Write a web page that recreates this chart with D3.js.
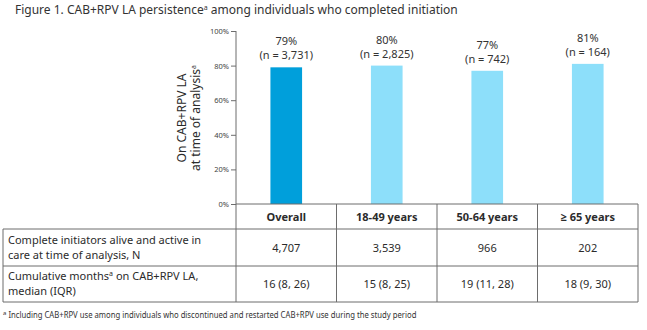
<!DOCTYPE html>
<html>
<head>
<meta charset="utf-8">
<script src="https://cdn.jsdelivr.net/npm/d3@7"></script>
<style>
  body { margin: 0; background: #fff; }
  svg { font-family: "Noto Sans", "Open Sans", sans-serif; }
</style>
</head>
<body>
<div id="chart"></div>
<script>
/* DATA */
const groups = ["Overall", "18-49 years", "50-64 years", "\u2265 65 years"]
const persistence = [79, 80, 77, 81]
const nOnLA = [3731, 2825, 742, 164]
const initiators = [4707, 3539, 966, 202]
const cumMonths = ["16 (8, 26)", "15 (8, 25)", "19 (11, 28)", "18 (9, 30)"]
const yTicks = [0, 20, 40, 60, 80, 100]

/* CONSTANTS */
const width = 647, height = 330
const plot = { left: 236, right: 638, top: 31, bottom: 204 }
const rows = [204, 229, 266, 302]
const tableLeft = 3
const lineColor = "#6d6d6d"
const textColor = "#2b2b2b"

const svg = d3.select("#chart")
  .append("svg")
  .attr("width", width)
  .attr("height", height)

//scales
const xScale = d3.scaleBand()
  .domain(groups)
  .range([plot.left, plot.right])

const yScale = d3.scaleLinear()
  .domain([0, 100])
  .range([plot.bottom, plot.top])

const barW = xScale.bandwidth() * 0.315

//title
const title = svg.append("text")
  .attr("x", 15)
  .attr("y", 14)
  .attr("font-size", "12px")
  .attr("fill", "#333")
title.append("tspan").text("Figure 1. CAB+RPV LA persistence")
title.append("tspan").text("a").attr("font-size", "7px").attr("dy", -4)
title.append("tspan").text(" among individuals who completed initiation").attr("dy", 4)

//y-axis
const yAxis = d3.axisLeft(yScale)
  .tickValues(yTicks)
  .tickFormat(d => d + "%")
  .tickSize(5)
  .tickPadding(2)

const yG = svg.append("g")
  .attr("class", "y-axis")
  .attr("transform", `translate(${plot.left},0)`)
  .call(yAxis)
yG.select(".domain").remove()
yG.selectAll("line").attr("stroke", lineColor)
yG.selectAll("text").attr("font-size", "7.5px").attr("fill", "#444").attr("font-family", "Noto Sans")

const yTitle = svg.append("text")
  .attr("transform", `translate(186,118) rotate(-90)`)
  .attr("text-anchor", "middle")
  .attr("font-size", "12px")
  .attr("fill", textColor)
yTitle.append("tspan").attr("x", 0).attr("dy", 0).text("On CAB+RPV LA")
const l2 = yTitle.append("tspan").attr("x", 0).attr("dy", 14)
l2.append("tspan").text("at time of analysis")
l2.append("tspan").text("a").attr("font-size", "7px").attr("dy", -4)

//bars
svg.selectAll(".bar")
  .data(groups)
  .join("rect")
  .attr("class", "bar")
  .attr("x", d => xScale(d) + xScale.bandwidth() / 2 - barW / 2)
  .attr("width", barW)
  .attr("y", (d, i) => yScale(persistence[i]))
  .attr("height", (d, i) => yScale(0) - yScale(persistence[i]))
  .attr("fill", (d, i) => i === 0 ? "#009fdb" : "#8ddffa")

//bar labels
svg.selectAll(".pct")
  .data(groups)
  .join("text")
  .attr("class", "pct")
  .attr("x", d => xScale(d) + xScale.bandwidth() / 2)
  .attr("y", (d, i) => yScale(persistence[i]) - 22)
  .attr("text-anchor", "middle")
  .attr("font-size", "11px")
  .attr("fill", "#333")
  .text((d, i) => persistence[i] + "%")

svg.selectAll(".nlab")
  .data(groups)
  .join("text")
  .attr("class", "nlab")
  .attr("x", d => xScale(d) + xScale.bandwidth() / 2)
  .attr("y", (d, i) => yScale(persistence[i]) - 8)
  .attr("text-anchor", "middle")
  .attr("font-size", "11px")
  .attr("fill", "#333")
  .text((d, i) => "(n = " + d3.format(",")(nOnLA[i]) + ")")

//table lines
const lines = svg.append("g").attr("stroke", lineColor).attr("stroke-width", 1)
lines.append("line").attr("x1", plot.left).attr("x2", plot.left).attr("y1", plot.top).attr("y2", rows[3])
lines.append("line").attr("x1", plot.left).attr("x2", plot.right).attr("y1", rows[0]).attr("y2", rows[0])
rows.slice(1).forEach(r => {
  lines.append("line").attr("x1", tableLeft).attr("x2", plot.right).attr("y1", r).attr("y2", r)
})
lines.append("line").attr("x1", tableLeft).attr("x2", tableLeft).attr("y1", rows[1]).attr("y2", rows[3])
groups.forEach(g => {
  const xr = xScale(g) + xScale.bandwidth()
  lines.append("line").attr("x1", xr).attr("x2", xr).attr("y1", rows[0]).attr("y2", rows[3])
})

//header row
svg.selectAll(".head")
  .data(groups)
  .join("text")
  .attr("class", "head")
  .attr("x", d => xScale(d) + xScale.bandwidth() / 2)
  .attr("y", (rows[0] + rows[1]) / 2 + 4)
  .attr("text-anchor", "middle")
  .attr("font-size", "11px")
  .attr("font-weight", "bold")
  .attr("fill", textColor)
  .text(d => d)

//row labels
const r1 = svg.append("text").attr("font-size", "11px").attr("fill", textColor)
r1.append("tspan").attr("x", 8).attr("y", 244).text("Complete initiators alive and active in")
r1.append("tspan").attr("x", 8).attr("y", 259).text("care at time of analysis, N")

const r2 = svg.append("text").attr("font-size", "11px").attr("fill", textColor)
const r2a = r2.append("tspan").attr("x", 8).attr("y", 280)
r2a.append("tspan").text("Cumulative months")
r2a.append("tspan").text("a").attr("font-size", "7px").attr("dy", -4)
r2a.append("tspan").text(" on CAB+RPV LA,").attr("dy", 4)
r2.append("tspan").attr("x", 8).attr("y", 295).text("median (IQR)")

//row values
svg.selectAll(".init")
  .data(groups)
  .join("text")
  .attr("class", "init")
  .attr("x", d => xScale(d) + xScale.bandwidth() / 2)
  .attr("y", (rows[1] + rows[2]) / 2 + 4)
  .attr("text-anchor", "middle")
  .attr("font-size", "11px")
  .attr("fill", textColor)
  .text((d, i) => d3.format(",")(initiators[i]))

svg.selectAll(".cum")
  .data(groups)
  .join("text")
  .attr("class", "cum")
  .attr("x", d => xScale(d) + xScale.bandwidth() / 2)
  .attr("y", (rows[2] + rows[3]) / 2 + 4)
  .attr("text-anchor", "middle")
  .attr("font-size", "11px")
  .attr("fill", textColor)
  .text((d, i) => cumMonths[i])

//footnote
const fn = svg.append("text").attr("x", 3).attr("y", 318).attr("font-size", "9px").attr("fill", "#333")
fn.append("tspan").text("a").attr("font-size", "6px").attr("dy", -3)
fn.append("tspan").text(" Including CAB+RPV use among individuals who discontinued and restarted CAB+RPV use during the study period")
  .attr("dy", 3)
  .attr("textLength", 410)
  .attr("lengthAdjust", "spacingAndGlyphs")
</script>
</body>
</html>
